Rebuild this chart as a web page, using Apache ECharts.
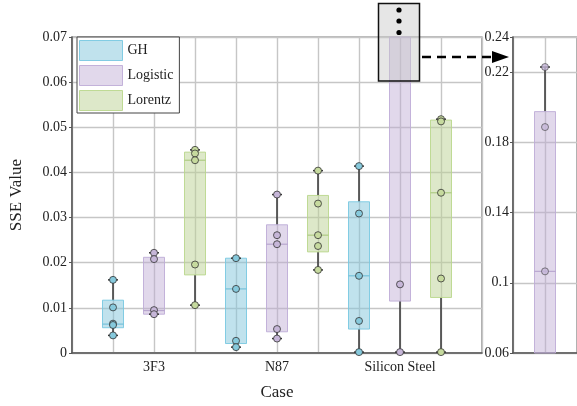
<!DOCTYPE html>
<html>
<head>
<meta charset="utf-8">
<script src="https://cdn.jsdelivr.net/npm/echarts@6/dist/echarts.min.js"></script>
<style>html,body{margin:0;padding:0;background:#fff}#c{width:577px;height:406px}</style>
</head>
<body>
<div id="c"></div>
<script>
const categories = ['3F3', 'N87', 'Silicon Steel'];
const methods = ['GH', 'Logistic', 'Lorentz'];
const yTicksMain = [0, 0.01, 0.02, 0.03, 0.04, 0.05, 0.06, 0.07];
const yTicksInset = [0.06, 0.1, 0.14, 0.18, 0.22, 0.24];

// box stats per case: [min, Q1, median, Q3, max]
const ghBox  = [[0.0039, 0.0056, 0.0064, 0.0117, 0.0162], [0.0013, 0.0021, 0.0142, 0.0210, 0.0210], [0.0002, 0.0053, 0.0171, 0.0335, 0.0414]];
const logBox = [[0.0086, 0.0086, 0.0094, 0.0212, 0.0222], [0.0032, 0.0047, 0.0241, 0.0284, 0.0351], [0.0002, 0.0115, 0.1065, 0.1975, 0.2229]];
const lorBox = [[0.0106, 0.0173, 0.0427, 0.0445, 0.0450], [0.0184, 0.0224, 0.0261, 0.0349, 0.0404], [0.0002, 0.0123, 0.0355, 0.0516, 0.0518]];

// individual points per case
const ghPts  = [[0.0162, 0.0101, 0.0065, 0.0062, 0.0039], [0.0210, 0.0142, 0.0027, 0.0013], [0.0414, 0.0309, 0.0171, 0.0071, 0.0002]];
const logPts = [[0.0222, 0.0208, 0.0095, 0.0086], [0.0351, 0.0261, 0.0241, 0.0053, 0.0032], [0.2229, 0.1887, 0.1065, 0.0152, 0.0002]];
const lorPts = [[0.0450, 0.0442, 0.0427, 0.0196, 0.0106], [0.0404, 0.0331, 0.0261, 0.0237, 0.0184], [0.0518, 0.0513, 0.0355, 0.0165, 0.0002]];

const FONT = "'Liberation Serif', 'Times New Roman', serif";
const styles = {
  GH:       {fill: 'rgba(130,198,220,0.5)', stroke: 'rgba(120,200,225,0.9)', med: 'rgba(110,190,215,0.9)', pt: '#86c9dc'},
  Logistic: {fill: 'rgba(188,168,210,0.45)', stroke: 'rgba(190,172,215,0.9)', med: 'rgba(175,155,200,0.8)', pt: '#c6b6d8'},
  Lorentz:  {fill: 'rgba(188,210,148,0.5)', stroke: 'rgba(185,215,140,0.9)', med: 'rgba(170,200,125,0.9)', pt: '#c6da9e'}
};

function makeRender(st) {
  return function (params, api) {
    const cs = params.coordSys;
    const top = cs.y, bot = cs.y + cs.height;
    const x = api.value(0);
    const cx = api.coord([x, api.value(3)])[0];
    const cy = v => api.coord([x, v])[1];
    const clamp = y => Math.max(top, Math.min(bot, y));
    const yMin = cy(api.value(1)), yQ1 = cy(api.value(2)), yMed = cy(api.value(3)), yQ3 = cy(api.value(4)), yMax = cy(api.value(5));
    const hw = 10.5, cw = 5;
    const ch = [];
    const wStyle = {stroke: '#333', lineWidth: 1.5};
    if (clamp(yMin) !== clamp(yQ1)) ch.push({type: 'line', shape: {x1: cx, y1: clamp(yMin), x2: cx, y2: clamp(yQ1)}, style: wStyle});
    if (clamp(yMax) !== clamp(yQ3)) ch.push({type: 'line', shape: {x1: cx, y1: clamp(yMax), x2: cx, y2: clamp(yQ3)}, style: wStyle});
    const rTop = clamp(yQ3), rBot = clamp(yQ1);
    ch.push({type: 'rect', shape: {x: cx - hw, y: rTop, width: 2 * hw, height: rBot - rTop}, style: {fill: st.fill, stroke: st.stroke, lineWidth: 1}});
    if (yMed >= top && yMed <= bot) ch.push({type: 'line', shape: {x1: cx - hw, y1: yMed, x2: cx + hw, y2: yMed}, style: {stroke: st.med, lineWidth: 1.2}});
    [yMin, yMax].forEach(y => {
      if (y >= top - 0.5 && y <= bot + 0.5) ch.push({type: 'line', shape: {x1: cx - cw, y1: y, x2: cx + cw, y2: y}, style: wStyle});
    });
    return {type: 'group', children: ch};
  };
}

const boxSets = {GH: ghBox, Logistic: logBox, Lorentz: lorBox};
const ptSets = {GH: ghPts, Logistic: logPts, Lorentz: lorPts};
const series = [];
methods.forEach((m, j) => {
  series.push({
    type: 'custom', name: m, xAxisIndex: 0, yAxisIndex: 0, z: 2,
    itemStyle: {color: styles[m].fill},
    renderItem: makeRender(styles[m]),
    data: boxSets[m].map((b, i) => [1 + 3 * i + j].concat(b))
  });
});
// inset: Logistic Silicon Steel
series.push({
  type: 'custom', name: 'Logistic', xAxisIndex: 1, yAxisIndex: 1, z: 2,
  itemStyle: {color: styles.Logistic.fill},
  renderItem: makeRender(styles.Logistic),
  data: [[1].concat(logBox[2])]
});
methods.forEach((m, j) => {
  const d = [];
  ptSets[m].forEach((arr, i) => arr.forEach(v => d.push([1 + 3 * i + j, v])));
  series.push({
    type: 'scatter', name: m + ' points', xAxisIndex: 0, yAxisIndex: 0, z: 5,
    symbolSize: 7, clip: true,
    itemStyle: {color: styles[m].pt, borderColor: '#333', borderWidth: 0.8, opacity: 1},
    data: d
  });
});
series.push({
  type: 'scatter', name: 'Logistic inset points', xAxisIndex: 1, yAxisIndex: 1, z: 5,
  symbolSize: 7, clip: true,
  itemStyle: {color: styles.Logistic.pt, borderColor: '#444', borderWidth: 0.8},
  data: logPts[2].map(v => [1, v])
});

const labelMap = {};
categories.forEach((c, i) => { labelMap[2 + 3 * i] = c; });

const axisTxt = {fontFamily: FONT, fontSize: 14, color: '#222'};
const gridLine = {show: true, lineStyle: {color: '#c6c6c6', width: 1.4}};
const chart = echarts.init(document.getElementById('c'));
chart.setOption({
  animation: false,
  backgroundColor: '#fff',
  grid: [
    {left: 69, top: 37, width: 413, height: 316, show: true, borderColor: '#777', borderWidth: 1.2, backgroundColor: 'transparent'},
    {left: 513, top: 37, width: 70, height: 316, show: true, borderColor: '#777', borderWidth: 1.2, backgroundColor: 'transparent'}
  ],
  legend: {
    orient: 'vertical', left: 77, top: 37,
    itemWidth: 43, itemHeight: 20, itemGap: 4,
    padding: [3, 6, 2, 2],
    borderColor: '#444', borderWidth: 1, backgroundColor: '#fff',
    textStyle: {fontFamily: FONT, fontSize: 14, color: '#222'},
    data: methods.map(m => ({name: m, icon: 'rect', itemStyle: {color: styles[m].fill, borderColor: styles[m].stroke, borderWidth: 1}}))
  },
  xAxis: [
    {
      type: 'value', gridIndex: 0, min: 0, max: 10, interval: 1,
      name: 'Case', nameLocation: 'middle', nameGap: 31,
      nameTextStyle: {fontFamily: FONT, fontSize: 17, color: '#222'},
      axisLine: {lineStyle: {color: '#555', width: 1.5}},
      axisTick: {show: false},
      axisLabel: Object.assign({margin: 7, formatter: v => labelMap[v] || ''}, axisTxt),
      splitLine: gridLine
    },
    {
      type: 'value', gridIndex: 1, min: 0, max: 2, interval: 1,
      axisLine: {lineStyle: {color: '#555', width: 1.5}},
      axisTick: {show: false}, axisLabel: {show: false},
      splitLine: gridLine
    }
  ],
  yAxis: [
    {
      type: 'value', gridIndex: 0, min: yTicksMain[0], max: yTicksMain[yTicksMain.length - 1], interval: 0.01,
      name: 'SSE Value', nameLocation: 'middle', nameGap: 47, nameRotate: 90,
      nameTextStyle: {fontFamily: FONT, fontSize: 17, color: '#222'},
      axisLine: {show: true, lineStyle: {color: '#555', width: 1.5}},
      axisTick: {show: true, length: 3, lineStyle: {color: '#555'}},
      axisLabel: Object.assign({margin: 5, formatter: v => v === 0 ? '0' : v.toFixed(2)}, axisTxt),
      splitLine: gridLine
    },
    {
      type: 'value', gridIndex: 1, min: yTicksInset[0], max: yTicksInset[yTicksInset.length - 1], interval: 0.04,
      axisLine: {show: true, lineStyle: {color: '#555', width: 1.5}},
      axisTick: {show: true, length: 3, lineStyle: {color: '#555'}},
      axisLabel: Object.assign({margin: 4, formatter: v => String(+v.toFixed(2))}, axisTxt),
      splitLine: gridLine
    }
  ],
  series: series,
  graphic: [
    {type: 'rect', z: 100, shape: {x: 378.5, y: 3.5, width: 41, height: 77.5}, style: {fill: 'rgba(200,200,200,0.45)', stroke: '#111', lineWidth: 1.5}},
    {type: 'circle', z: 101, shape: {cx: 399, cy: 10, r: 2.6}, style: {fill: '#000'}},
    {type: 'circle', z: 101, shape: {cx: 399, cy: 21, r: 2.6}, style: {fill: '#000'}},
    {type: 'circle', z: 101, shape: {cx: 399, cy: 32.5, r: 2.6}, style: {fill: '#000'}},
    {type: 'line', z: 101, shape: {x1: 422, y1: 57, x2: 494, y2: 57}, style: {stroke: '#000', lineWidth: 2.5, lineDash: [9, 6]}},
    {type: 'polygon', z: 101, shape: {points: [[492, 51], [509, 57], [492, 63]]}, style: {fill: '#000'}}
  ]
});
</script>
</body>
</html>
